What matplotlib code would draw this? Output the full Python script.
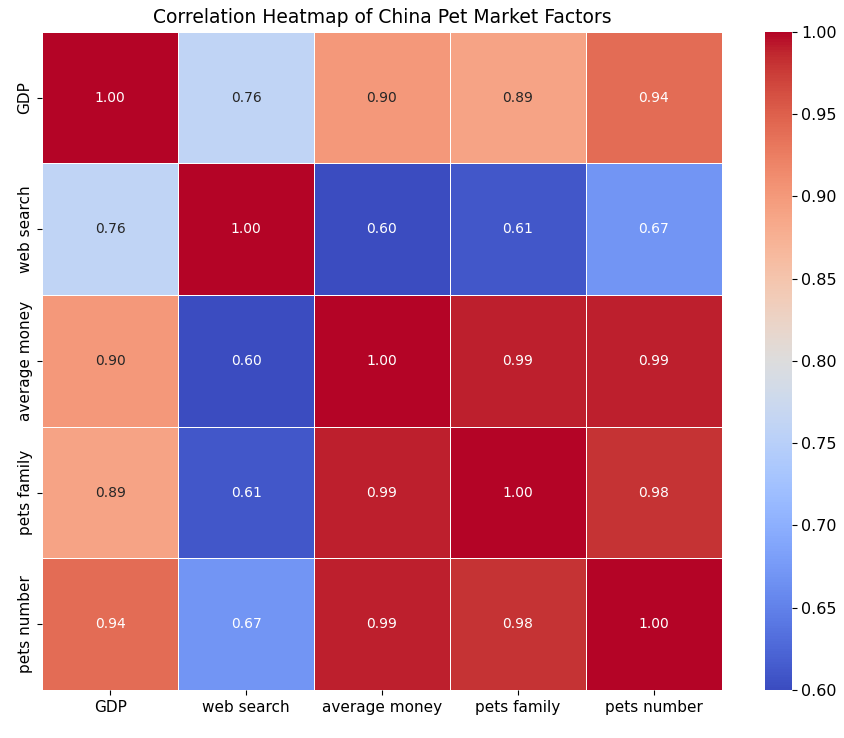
import numpy as np
import matplotlib
matplotlib.use('Agg')
import matplotlib.pyplot as plt
import seaborn as sns

labels = ['GDP', 'web search', 'average money', 'pets family', 'pets number']
gdp = [1.00, 0.76, 0.90, 0.89, 0.94]
web_search = [0.76, 1.00, 0.60, 0.61, 0.67]
average_money = [0.90, 0.60, 1.00, 0.99, 0.99]
pets_family = [0.89, 0.61, 0.99, 1.00, 0.98]
pets_number = [0.94, 0.67, 0.99, 0.98, 1.00]

corr = np.array([gdp, web_search, average_money, pets_family, pets_number])

fig = plt.figure(figsize=(8.45, 7.38), dpi=100)
ax = fig.add_axes([0.05, 0.065, 0.804, 0.892])
cax = fig.add_axes([0.905, 0.065, 0.032, 0.892])

sns.heatmap(corr, annot=True, fmt='.2f', cmap='coolwarm', linewidths=0.5,
            linecolor='white', xticklabels=labels, yticklabels=labels,
            ax=ax, cbar_ax=cax, annot_kws={'fontsize': 10})

# light text on the darker cells
for t in ax.texts:
    v = float(t.get_text())
    t.set_color('white' if (v > 0.92 or v < 0.7) else '#262626')

ax.set_title('Correlation Heatmap of China Pet Market Factors', fontsize=13.5)
ax.tick_params(axis='both', labelsize=11)
cax.tick_params(labelsize=11.5)

plt.savefig('out.png', dpi=100)
